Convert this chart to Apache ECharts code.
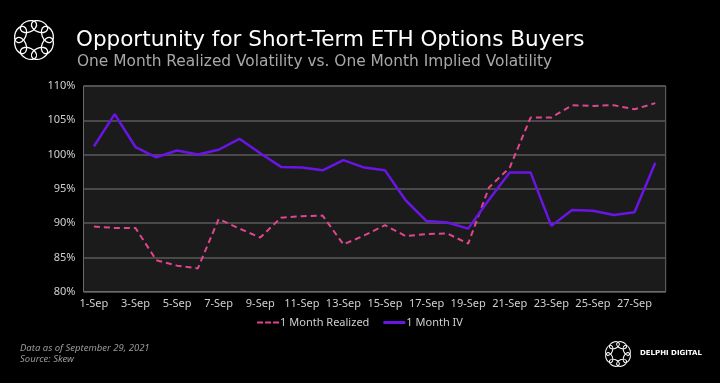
<!DOCTYPE html>
<html>
<head>
<meta charset="utf-8">
<script src="https://cdn.jsdelivr.net/npm/echarts@6/dist/echarts.min.js"></script>
<style>
html,body{margin:0;padding:0;background:#000;}
#c{width:720px;height:383px;}
</style>
</head>
<body>
<div id="c"></div>
<script>
const categories = ['1-Sep','2-Sep','3-Sep','4-Sep','5-Sep','6-Sep','7-Sep','8-Sep','9-Sep','10-Sep','11-Sep','12-Sep','13-Sep','14-Sep','15-Sep','16-Sep','17-Sep','18-Sep','19-Sep','20-Sep','21-Sep','22-Sep','23-Sep','24-Sep','25-Sep','26-Sep','27-Sep','28-Sep'];
const realized = [89.5,89.3,89.3,84.6,83.8,83.4,90.6,89.2,87.9,90.8,91.0,91.1,86.9,88.2,89.7,88.1,88.4,88.5,87.0,95.2,98.1,105.4,105.4,107.2,107.1,107.2,106.6,107.5];
const iv = [101.2,105.9,101.1,99.6,100.6,100.0,100.7,102.3,100.2,98.2,98.1,97.7,99.2,98.1,97.7,93.3,90.3,90.1,89.2,93.4,97.4,97.4,89.6,91.9,91.8,91.2,91.6,98.8];
const yTicks = [80,85,90,95,100,105,110];

const FONT = 'Noto Sans';
const TFONT = 'DejaVu Sans';

function logo(cx, cy, R, rx, ry, lw) {
  const els = [];
  for (let i = 0; i < 8; i++) {
    const a = i * Math.PI / 4 + Math.PI / 8;
    els.push({
      type: 'ellipse',
      x: cx + R * Math.cos(a), y: cy + R * Math.sin(a),
      rotation: -(a + Math.PI / 2),
      shape: { cx: 0, cy: 0, rx: rx, ry: ry },
      style: { fill: 'none', stroke: '#fff', lineWidth: lw }
    });
  }
  return els;
}

const chart = echarts.init(document.getElementById('c'));
chart.setOption({
  backgroundColor: '#000',
  animation: false,
  title: [
    { text: 'Opportunity for Short-Term ETH Options Buyers', left: 71, top: 24,
      textStyle: { color: '#fff', fontSize: 21.5, fontWeight: 'normal', fontFamily: TFONT } },
    { text: 'One Month Realized Volatility vs. One Month Implied Volatility', left: 72, top: 49,
      textStyle: { color: '#a8a8a8', fontSize: 15.4, fontWeight: 'normal', fontFamily: TFONT } }
  ],
  grid: { left: 83.5, right: 54.3, top: 86, bottom: 91.3, show: true,
    backgroundColor: '#1b1b1b', borderColor: '#6a6a6a', borderWidth: 1 },
  legend: {
    bottom: 50, left: 'center', itemWidth: 22, itemHeight: 3, itemGap: 14,
    textStyle: { color: '#cfcfcf', fontSize: 11, fontFamily: FONT, padding: [0, 0, 0, -4] },
    data: [
      { name: '1 Month Realized', icon: 'path://M0,0h6v2h-6z M8,0h6v2h-6z M16,0h6v2h-6z' },
      { name: '1 Month IV', icon: 'rect' }
    ]
  },
  xAxis: {
    type: 'category', data: categories, boundaryGap: true,
    axisLine: { lineStyle: { color: '#6a6a6a', width: 1 } },
    axisTick: { interval: 1, length: 4, lineStyle: { color: '#8a8a8a' } },
    axisLabel: { interval: 1, color: '#d0d0d0', fontSize: 11, fontFamily: FONT, margin: 7 }
  },
  yAxis: {
    type: 'value', min: yTicks[0], max: yTicks[yTicks.length - 1], interval: 5,
    axisLine: { show: false }, axisTick: { show: false },
    splitLine: { lineStyle: { color: '#5a5a5a', width: 1.5 } },
    axisLabel: { formatter: '{value}%', color: '#d0d0d0', fontSize: 11, fontFamily: FONT, margin: 8 }
  },
  series: [
    { name: '1 Month Realized', type: 'line', data: realized, symbol: 'none',
      itemStyle: { color: '#e0468e' },
      lineStyle: { color: '#e0468e', width: 2, type: [6, 4] } },
    { name: '1 Month IV', type: 'line', data: iv, symbol: 'none',
      itemStyle: { color: '#6a14e6' },
      lineStyle: { color: '#6a14e6', width: 2.5 } }
  ],
  graphic: [
    ...logo(34, 40, 14.5, 8.5, 5.5, 1.3),
    ...logo(618, 354, 9.5, 5.2, 3.2, 1.1),
    { type: 'text', left: 640, top: 350,
      style: { text: 'DELPHI DIGITAL', fill: '#fff', font: 'bold 7px "DejaVu Sans"' } },
    { type: 'text', left: 20, top: 343,
      style: { text: 'Data as of September 29, 2021', fill: '#9a9a9a', font: 'italic 9.5px "Noto Sans"' } },
    { type: 'text', left: 20, top: 354,
      style: { text: 'Source: Skew', fill: '#9a9a9a', font: 'italic 9.5px "Noto Sans"' } }
  ]
});
</script>
</body>
</html>
